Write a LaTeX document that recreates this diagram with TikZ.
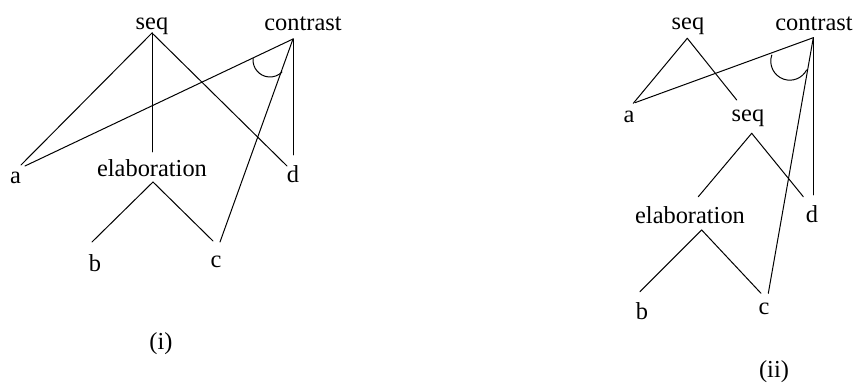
\documentclass[tikz,border=0pt]{standalone}
\usepackage{fontspec}
\setmainfont{Liberation Serif}
\usepackage{tikz}
\usetikzlibrary{positioning}

\begin{document}
\begin{tikzpicture}[
  x=0.5pt, y=0.5pt,
  font=\fontsize{12.2}{14}\selectfont,
  lbl/.style={anchor=base, inner sep=0pt},
  branch/.style={line width=0.5pt, line cap=round}
]
  \useasboundingbox (0,0) rectangle (856,-383);

  % (i)
  \node[lbl] (seqA) at (152,-30) {seq};
  \node[lbl] (conA) at (303,-31) {contrast};
  \node[lbl] (aA) at (15.5,-184) {a};
  \node[lbl] (elaA) at (152,-177) {elaboration};
  \node[lbl] (dA) at (293,-183) {d};
  \node[lbl] (bA) at (95,-272) {b};
  \node[lbl] (cA) at (216,-268) {c};
  \node[lbl] (capA) at (161,-350) {(i)};

  \coordinate (seqA-v) at (152,-33);
  \coordinate (conA-v) at (293,-39);
  \coordinate (elaA-v) at (153,-182);
  \coordinate (aA-s) at (21,-165);
  \coordinate (aA-c) at (25,-166);
  \coordinate (elaA-t) at (152,-152);
  \coordinate (dA-s) at (287,-166);
  \coordinate (dA-c) at (293,-155);
  \coordinate (bA-t) at (92,-242);
  \coordinate (cA-e) at (213,-241);
  \coordinate (cA-c) at (220,-242);
  \coordinate (arcA) at (253.06,-58.52);

  \draw[branch] (seqA-v) -- (aA-s);
  \draw[branch] (seqA-v) -- (elaA-t);
  \draw[branch] (seqA-v) -- (dA-s);
  \draw[branch] (conA-v) -- (aA-c);
  \draw[branch] (conA-v) -- (cA-c);
  \draw[branch] (conA-v) -- (dA-c);
  \draw[branch] (elaA-v) -- (bA-t);
  \draw[branch] (elaA-v) -- (cA-e);
  \draw[branch] (arcA) arc[start angle=175, end angle=315, radius=17];

  % (ii)
  \node[lbl] (seqB) at (688,-30) {seq};
  \node[lbl] (conB) at (814,-31) {contrast};
  \node[lbl] (aB) at (629,-123) {a};
  \node[lbl] (sqB) at (748,-122) {seq};
  \node[lbl] (elaB) at (690,-224) {elaboration};
  \node[lbl] (dB) at (812,-223) {d};
  \node[lbl] (bB) at (642,-320) {b};
  \node[lbl] (cB) at (764,-315) {c};
  \node[lbl] (capB) at (774,-378) {(ii)};

  \coordinate (seqB-v) at (687.3,-38.3);
  \coordinate (conB-v) at (813.3,-37.7);
  \coordinate (sqB-v) at (751.7,-133.3);
  \coordinate (elaB-v) at (701.7,-230);
  \coordinate (aB-s) at (633.3,-103.3);
  \coordinate (aB-c) at (635,-102.7);
  \coordinate (sqB-t) at (736.7,-100);
  \coordinate (elaB-t) at (698.3,-196.7);
  \coordinate (dB-s) at (803.3,-196.7);
  \coordinate (dB-c) at (813.3,-195);
  \coordinate (bB-t) at (640,-291.7);
  \coordinate (cB-e) at (761,-293.3);
  \coordinate (cB-c) at (768.3,-293.3);
  \coordinate (arcB) at (771.8,-55);

  \draw[branch] (seqB-v) -- (aB-s);
  \draw[branch] (seqB-v) -- (sqB-t);
  \draw[branch] (conB-v) -- (aB-c);
  \draw[branch] (conB-v) -- (cB-c);
  \draw[branch] (conB-v) -- (dB-c);
  \draw[branch] (sqB-v) -- (elaB-t);
  \draw[branch] (sqB-v) -- (dB-s);
  \draw[branch] (elaB-v) -- (bB-t);
  \draw[branch] (elaB-v) -- (cB-e);
  \draw[branch] (arcB) arc[start angle=161, end angle=332.5, radius=19];
\end{tikzpicture}
\end{document}
